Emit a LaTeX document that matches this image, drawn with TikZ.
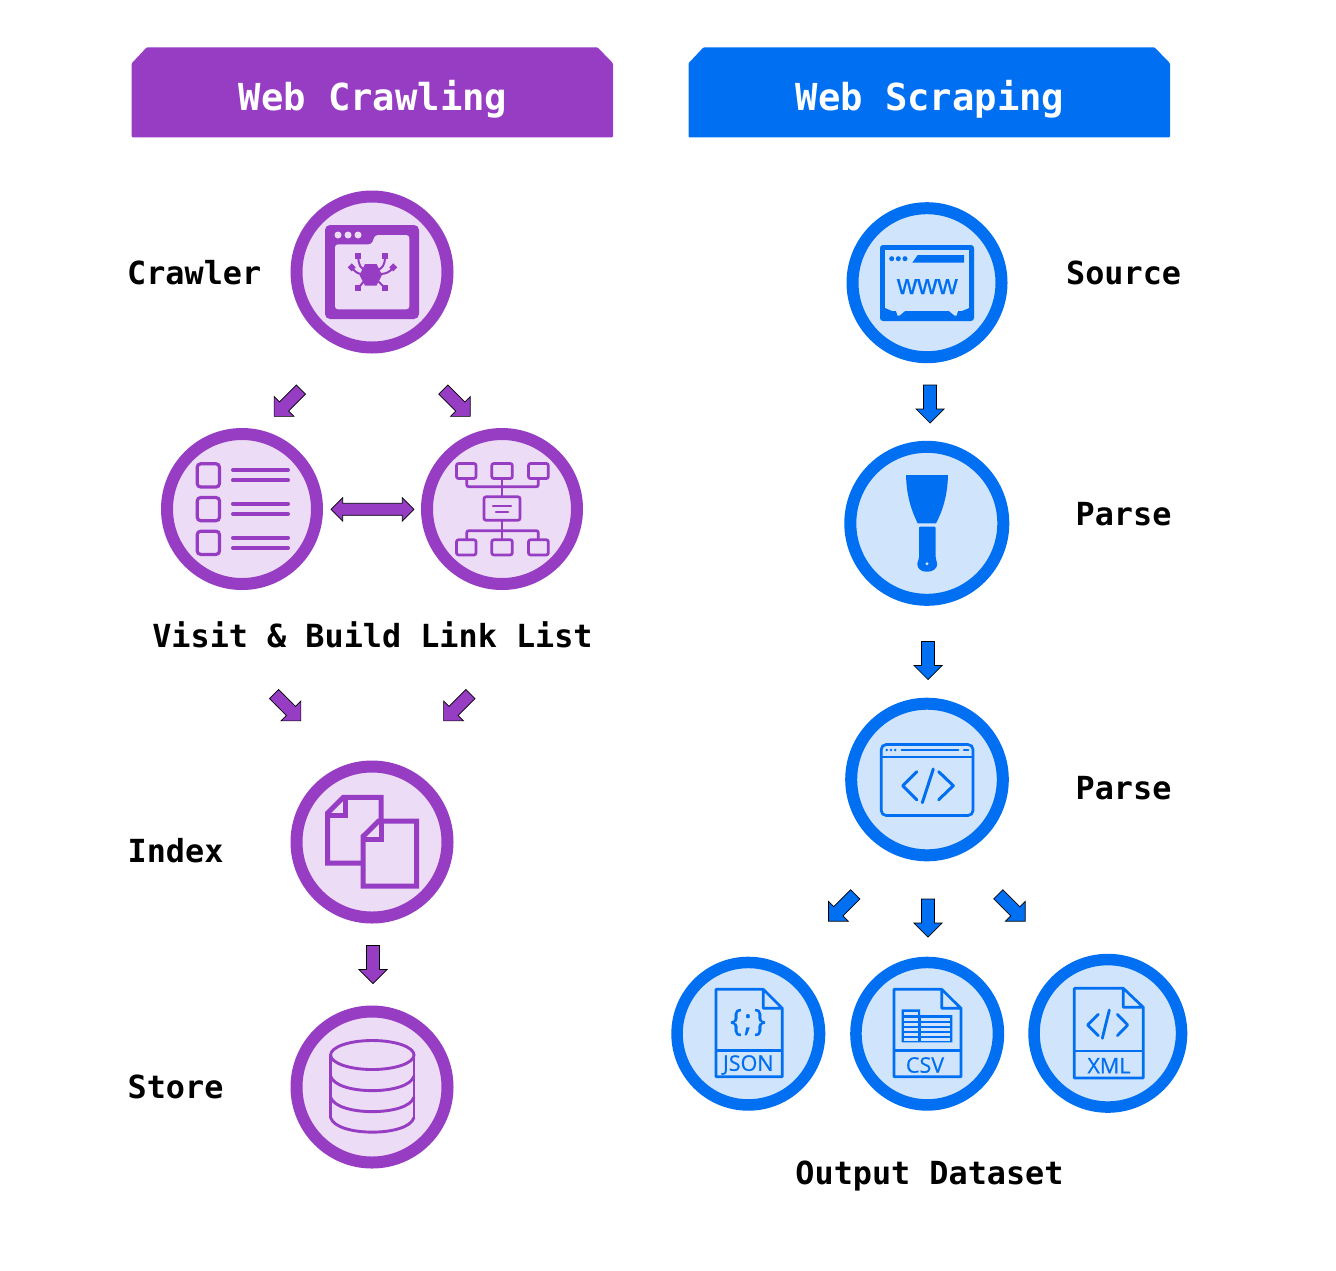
\documentclass[tikz,border=0pt]{standalone}
\usepackage{fontspec}
\setmainfont{Open Sans}
\newfontfamily\labelfont{DejaVu Sans Mono}
\newfontfamily\wwwfont[FakeBold=0.6]{Liberation Sans}
\newfontfamily\docfont[FakeBold=0.6]{Open Sans}
\definecolor{pur}{HTML}{963DC4}
\definecolor{purl}{HTML}{ECDCF6}
\definecolor{blu}{HTML}{006FF2}
\definecolor{blul}{HTML}{D0E4FC}
\tikzset{
  ring/.style n args={3}{circle,draw=#1,fill=#2,line width=#3pt,outer sep=0pt,inner sep=0pt},
  banner/.style={fill=#1,draw=none},
  headtext/.style={text=white,font=\labelfont\bfseries\fontsize{37.2}{40}\selectfont,anchor=base},
  lab/.style={text=black,font=\labelfont\bfseries\fontsize{31.8}{34}\selectfont,anchor=base west},
  labc/.style={lab,anchor=base},
  blockarrow/.style={fill=#1,draw=black,line width=0.7pt,line join=miter},
  doctext/.style={text=blu,font=\docfont\fontsize{21.5}{22}\selectfont,anchor=center,inner sep=0pt}
}
\newcommand\blockarr[4]{\begin{scope}[shift={(#2,#3)},rotate=#4]
  \path[blockarrow=#1] (-6.5,0)--(6.5,0)--(6.5,24)--(14,24)--(0,38)--(-14,24)--(-6.5,24)--cycle;
\end{scope}}
\begin{document}
\begin{tikzpicture}[x=1pt,y=-1pt]
\path[use as bounding box,fill=white] (0,0) rectangle (1336,1270);
% banners
\path[banner=pur,rounded corners=1pt] (131.7,63.3)--(146.7,47.3)--(597.5,47.3)--(613,63.3)--(613,137.3)--(131.7,137.3)--cycle;
\path[banner=blu,rounded corners=1pt] (688.5,63.3)--(703.5,47.3)--(1154.5,47.3)--(1170,63.3)--(1170,137.3)--(688.5,137.3)--cycle;
\node[headtext] (h1) at (373,110) {Web Crawling};
\node[headtext] (h2) at (930,110) {Web Scraping};
% circles
\node[ring={pur}{purl}{12},minimum size=151pt] (crawler) at (372,272) {};
\node[ring={pur}{purl}{12},minimum size=150pt] (visit) at (242,509) {};
\node[ring={pur}{purl}{12},minimum size=150pt] (links) at (502,509) {};
\node[ring={pur}{purl}{12},minimum size=151pt] (index) at (372,842) {};
\node[ring={pur}{purl}{12},minimum size=151pt] (store) at (372,1087) {};
\node[ring={blu}{blul}{12},minimum size=149pt] (source) at (927,282.7) {};
\node[ring={blu}{blul}{12},minimum size=153pt] (parsea) at (926.8,523.3) {};
\node[ring={blu}{blul}{12},minimum size=151.6pt] (parseb) at (927,779.5) {};
\node[ring={blu}{blul}{11.5},minimum size=142.5pt] (json) at (748.3,1033.7) {};
\node[ring={blu}{blul}{11.5},minimum size=142.5pt] (csv) at (927.2,1033.7) {};
\node[ring={blu}{blul}{11.5},minimum size=147.5pt] (xml) at (1107.8,1033.3) {};
% labels
\node[lab,inner sep=0pt] (l1) at (127,284) {Crawler};
\node[labc,inner sep=0pt] (l2) at (372.5,647) {Visit \& Build Link List};
\node[lab,inner sep=0pt] (l3) at (127.5,862) {Index};
\node[lab,inner sep=0pt] (l4) at (127.5,1098) {Store};
\node[lab,inner sep=0pt] (l5) at (1066,284) {Source};
\node[lab,inner sep=0pt] (l6) at (1075.5,525) {Parse};
\node[lab,inner sep=0pt] (l7) at (1075.5,799) {Parse};
\node[labc,inner sep=0pt] (l8) at (929.5,1184) {Output Dataset};
% block arrows
\blockarr{blu}{930}{385}{0}
\blockarr{blu}{928}{641.5}{0}
\blockarr{blu}{928}{899}{0}
\blockarr{pur}{373}{945.5}{0}
\blockarr{blu}{855.3}{894.3}{-45}
\blockarr{blu}{998.3}{894.3}{45}
\blockarr{pur}{301}{389.5}{-45}
\blockarr{pur}{443.3}{389.5}{45}
\blockarr{pur}{274}{694}{45}
\blockarr{pur}{470.5}{694}{-45}
\path[blockarrow=pur] (331,509.3)--(342.7,497.6)--(342.7,503.3)--(402.3,503.3)--(402.3,497.6)--(414,509.3)--(402.3,521)--(402.3,515.3)--(342.7,515.3)--(342.7,521)--cycle;
% crawler icon
\path[fill=pur,rounded corners=5pt] (325,225) rectangle (419,319);
\path[fill=purl,rounded corners=3pt] (335,244.3)--(371.7,244.3)--(375,235)--(409.3,235)--(409.3,309.3)--(335,309.3)--cycle;
\foreach \x in {338,348,358} \path[fill=purl] (\x,235) circle (3.5);
\path[fill=pur] (365,264)--(376.5,264)--(382,275)--(376.5,285.5)--(365,285.5)--(359.5,275)--cycle;
\draw[pur,line width=2pt] (358.3,256) .. controls (358.3,266) and (361,268) .. (365,270)
  (385,256) .. controls (385,266) and (382,268) .. (378,270)
  (351.7,267.3) .. controls (355,272) and (358,274) .. (362,274)
  (393.3,267.3) .. controls (390,272) and (386,274) .. (380,274)
  (358.3,288) -- (365,280) (385,288) -- (377,280);
\foreach \p in {(358.3,256),(385,256),(358.3,288.3),(385,288.3)} \path[fill=pur] \p ++(-3,-3) rectangle ++(6,6);
\path[fill=pur] (351.7,263.3)--(355.7,267.3)--(351.7,271.3)--(347.7,267.3)--cycle;
\path[fill=pur] (393.3,263.3)--(397.3,267.3)--(393.3,271.3)--(389.3,267.3)--cycle;
% list icon
\foreach \y in {463.8,497.5,531.2}{
  \draw[pur,line width=3.2pt,rounded corners=3.5pt] (197.2,\y) rectangle (219.5,\y+23.2);}
\foreach \y in {470,480.3,503.7,514,537.7,548}{
  \draw[pur,line width=4pt,line cap=round] (233,\y)--(288,\y);}
% link icon
\begin{scope}[pur,line width=2.7pt,rounded corners=2pt]
\foreach \x/\w in {456.5/19.5,491.8/20.5,528.5/19.8}{
  \draw (\x,463.5) rectangle (\x+\w,478.5);
  \draw (\x,539.8) rectangle (\x+\w,554.9);}
\draw (484,496.8) rectangle (520,520.2);
\draw (466.7,479.3)--(466.7,486.7)--(538.3,486.7)--(538.3,479.3);
\draw (502,479.3)--(502,496);
\draw (502,521)--(502,530.7);
\draw (466.7,539)--(466.7,530.7)--(538.3,530.7)--(538.3,539);
\draw (502,530.7)--(502,539);
\end{scope}
\draw[pur,line width=2.3pt,line cap=round] (493,505.7)--(511,505.7) (496,512)--(508,512);
% index icon
\draw[pur,fill=purl,line width=5pt,line join=miter] (327.7,813)--(343.3,797.3)--(381,797.3)--(381,863)--(327.7,863)--cycle;
\draw[pur,line width=5pt] (345.7,797.3)--(345.7,815.7)--(327.7,815.7);
\draw[pur,fill=purl,line width=5pt,line join=miter] (363,836.5)--(378.7,821)--(416.7,821)--(416.7,886)--(363,886)--cycle;
\draw[pur,line width=5pt] (381,821)--(381,839.3)--(363,839.3);
% store icon
\begin{scope}[pur,line width=2.9pt]
\draw (372.3,1055) ellipse (41.7 and 14.5);
\draw (330.6,1055)--(330.6,1117.5) (414,1055)--(414,1117.5);
\foreach \y in {1076,1097,1117.5}
  \draw (330.6,\y) .. controls (336,1.0*\y+19.5) and (408.6,1.0*\y+19.5) .. (414,\y);
\end{scope}
% source icon
\path[fill=blu,rounded corners=3pt] (880,245) rectangle (974,321);
\path[fill=blul] (885,250) rectangle (969.3,311);
\path[fill=blu] (885,311)--(885,308)--(892,311)--cycle (969.3,311)--(969.3,308)--(962,311)--cycle;
\path[fill=blul] (896,311)--(905,311)--(899.5,315.5)--(897.5,315.5)--cycle (958,311)--(949,311)--(954.5,315.5)--(956.5,315.5)--cycle;
\foreach \x in {891.7,898.3,905} \path[fill=blu] (\x,258.7) circle (2.5);
\path[fill=blu] (917.7,255)--(964,255)--(964,262.7)--(912.3,262.7)--cycle;
\node[text=blu,font=\wwwfont\fontsize{28}{28}\selectfont,inner sep=0pt,anchor=base] (www) at (927.3,294) {www};
% scraper icon
\path[fill=blu] (906,475)--(948,475) .. controls (947.5,495) and (943,510) .. (936,523.3)--(917.7,523.3) .. controls (911,510) and (906.5,495) .. (906,475)--cycle;
\path[fill=blu,rounded corners=1pt] (919,526.7)--(935.7,526.7)--(935.7,558)--(937,563) .. controls (937.5,568) and (933,571.7) .. (927,571.7) .. controls (921,571.7) and (917,568) .. (917.4,563)--(919,558)--cycle;
\path[fill=blul] (927,563.7) circle (1.7);
% code window
\begin{scope}[blu]
\draw[line width=2.7pt,rounded corners=5pt] (881.2,744.5) rectangle (973,815.5);
\draw[line width=2.3pt] (881,756.7)--(973,756.7);
\foreach \x in {886.7,891,895.3} \path[fill=blu] (\x,750) circle (1.4);
\draw[line width=2.3pt,line cap=round] (901.7,750)--(958.3,750) (964,750)--(968.3,750);
\draw[line width=3pt,line cap=round,line join=round] (916.7,771.7)--(902.7,785.7)--(916.7,799.7) (938.7,771.7)--(953.3,785.7)--(938.7,799.7) (933.3,769)--(922.3,802.7);
\end{scope}
% json doc
\begin{scope}[blu,line width=2.7pt,line join=round]
\draw (763.3,989.3)--(716,989.3)--(716,1076.7)--(782.3,1076.7)--(782.3,1008.3)--(763.3,989.3)--(763.3,1008.3)--(782.3,1008.3);
\draw (716,1050.7)--(782.3,1050.7);
\end{scope}
\node[doctext] (jsonb) at (748,1022.5) {\fontsize{31}{32}\selectfont\{\hspace{2pt};\hspace{2pt}\}};
\node[doctext] (jsont) at (748.3,1065) {JSON};
% csv doc
\begin{scope}[blu,line width=2.7pt,line join=round]
\draw (941.7,989.3)--(894,989.3)--(894,1076.7)--(961,1076.7)--(961,1008.3)--(941.7,989.3)--(941.7,1008.3)--(961,1008.3);
\draw (894,1050.7)--(961,1050.7);
\end{scope}
\path[fill=blu] (901.7,1009.3)--(920,1009.3)--(920,1015)--(952.3,1015)--(952.3,1042.3)--(901.7,1042.3)--cycle;
\path[fill=blul] (904,1012.3) rectangle (918.3,1015.3);
\foreach \y in {1017.7,1022.7,1027.7,1032.7,1037.7}{
  \path[fill=blul] (904,\y) rectangle (918.3,\y+3);
  \path[fill=blul] (921,\y) rectangle (950,\y+3);}
\node[doctext] (csvt) at (925,1065) {CSV};
% xml doc
\begin{scope}[blu,line width=2.7pt,line join=round]
\draw (1123.3,988.3)--(1074.3,988.3)--(1074.3,1078)--(1143.3,1078)--(1143.3,1007.3)--(1123.3,988.3)--(1123.3,1007.3)--(1143.3,1007.3);
\draw (1074.3,1051)--(1143.3,1051);
\draw[line width=2.8pt,line cap=round] (1098.3,1014.3)--(1087.7,1025)--(1098.3,1035.7) (1117.3,1014.3)--(1127.7,1025)--(1117.3,1035.7) (1109.3,1010)--(1102.3,1038.3);
\end{scope}
\node[doctext] (xmlt) at (1109,1065.7) {XML};
\end{tikzpicture}
\end{document}
